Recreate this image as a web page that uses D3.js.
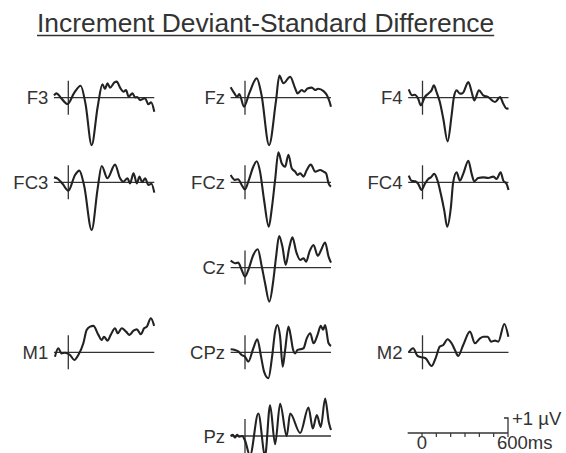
<!DOCTYPE html>
<html>
<head>
<meta charset="utf-8">
<script src="https://cdn.jsdelivr.net/npm/d3@7"></script>
<style>
  body { margin: 0; background: #fff; }
  text { font-family: "Liberation Sans", Arial, sans-serif; fill: #333; }
</style>
</head>
<body>
<div id="chart"></div>
<script>
const width = 566;
const height = 453;

const title = "Increment Deviant-Standard Difference";

// electrode names and where they sit on the grid
const channels = ["F3", "Fz", "F4", "FC3", "FCz", "FC4", "Cz", "M1", "CPz", "M2", "Pz"];
const gridCol = [0, 1, 2, 0, 1, 2, 1, 0, 1, 2, 1];
const gridRow = [0, 0, 0, 1, 1, 1, 2, 3, 3, 3, 4];

// waveforms, [time ms, amplitude uV]
const wF3 = [[-100,0.15],[-82,0.29],[-54,0.02],[-5,-0.42],[40,0.3],[86,0.8],[120,-0.4],[163,-3.16],[205,-0.6],[238,0.89],[256,0.58],[273,0.96],[291,0.67],[322,1.02],[338,1.07],[361,0.67],[385,0.4],[403,0.51],[420,0.07],[448,0.29],[466,0.02],[480,0.05],[501,-0.16],[536,-0.04],[559,-0.44],[578,-0.31],[600,-0.93]];
const wFz = [[-100,0.7],[-75,0.3],[-55,0.05],[-40,0.25],[-7,-0.6],[30,0.3],[82,1.29],[115,0.2],[168,-3.16],[215,-0.3],[240,1.47],[268,0.96],[315,1.4],[350,0.62],[366,0.29],[396,0.51],[413,0.4],[436,0.62],[466,0.67],[490,0.51],[510,0.6],[548,0.44],[571,0.18],[590,-0.27],[600,-0.6]];
const wF4 = [[-96,0.56],[-72,0.16],[-55,0.2],[-30,-0.07],[-12,-0.51],[16,0.04],[40,0.27],[63,0.49],[79,0.82],[98,0.38],[121,-0.29],[145,-1.4],[175,-2.91],[203,-1.18],[219,0.04],[238,0.49],[261,0.27],[280,0.3],[320,1.04],[343,0.38],[361,-0.18],[394,0.49],[424,0.16],[459,0.04],[506,-0.29],[541,0.04],[564,-0.4],[587,-0.73],[600,-0.7]];
const wFC3 = [[-100,0.33],[-75,0.25],[-40,-0.1],[0,-0.56],[47,0.49],[77,0.78],[110,-0.2],[163,-3.18],[205,-0.4],[233,1.09],[273,0.27],[326,1.18],[361,0.27],[385,0.04],[413,0.27],[431,-0.07],[455,0.6],[478,-0.07],[497,0.38],[515,0.0],[536,0.27],[559,-0.18],[580,-0.1],[600,-0.69]];
const wFCz = [[-100,0.49],[-70,0.16],[-48,0.2],[-23,-0.18],[0,-0.47],[23,0.04],[58,1.04],[82,1.4],[105,0.71],[133,-1.18],[166,-2.96],[186,-1.82],[210,0.16],[233,2.0],[256,1.27],[280,1.04],[303,1.84],[326,0.93],[350,0.71],[366,0.49],[385,0.6],[408,0.38],[431,0.82],[459,1.18],[490,0.71],[524,0.82],[548,0.71],[566,0.6],[583,-0.07],[600,-0.29]];
const wFC4 = [[-96,0.44],[-77,0.11],[-49,0.07],[-30,-0.11],[-7,-0.51],[16,-0.11],[40,0.22],[58,0.33],[82,0.56],[105,0.11],[128,-0.78],[152,-1.89],[172,-2.96],[198,-1.67],[214,0.0],[238,0.67],[261,0.11],[284,0.56],[320,1.44],[343,0.56],[361,0.07],[389,0.29],[424,0.33],[459,0.29],[494,0.38],[517,0.22],[545,0.67],[564,0.11],[587,-0.11],[600,-0.51]];
const wCz = [[-100,0.47],[-70,0.29],[-48,0.33],[-23,-0.16],[0,-0.6],[23,-0.16],[58,0.84],[89,1.22],[117,0.07],[140,-1.04],[170,-2.27],[198,-0.82],[217,0.73],[238,2.11],[261,1.4],[284,0.18],[308,1.29],[331,2.02],[357,1.07],[385,0.51],[408,0.62],[427,0.4],[450,1.07],[478,1.51],[508,0.78],[531,1.18],[559,1.67],[583,0.73],[600,0.33]];
const wM1 = [[-93,-0.29],[-70,0.27],[-47,-0.07],[-25,-0.03],[12,-0.18],[42,-0.51],[70,-0.18],[105,0.6],[128,1.49],[152,1.71],[175,1.76],[210,1.16],[233,0.82],[249,1.04],[273,0.78],[296,1.16],[326,1.6],[345,1.27],[373,1.6],[403,1.38],[427,1.16],[455,1.44],[478,1.53],[506,1.2],[529,1.6],[548,1.71],[576,2.27],[599,1.76]];
const wCPz = [[-100,0.2],[-70,0.15],[-45,0.05],[-23,-0.18],[0,-0.29],[23,-0.62],[58,0.27],[86,0.87],[112,-0.29],[133,-1.29],[163,-1.73],[189,-0.29],[210,1.38],[226,1.82],[245,1.04],[263,-0.96],[280,0.16],[303,1.71],[319,1.09],[333,0.27],[350,-0.07],[366,0.16],[385,0.2],[408,0.27],[431,0.93],[455,1.27],[478,0.6],[506,1.16],[529,1.76],[545,1.5],[559,1.82],[583,0.6],[600,0.42]];
const wM2 = [[-96,0.0],[-65,0.27],[-35,-0.24],[-7,-0.33],[21,-0.4],[63,-0.91],[91,-0.4],[121,0.38],[145,0.49],[175,0.87],[203,0.6],[226,0.16],[249,-0.24],[284,0.49],[331,1.38],[366,0.6],[401,0.93],[424,1.04],[455,1.04],[478,0.71],[506,0.78],[529,0.71],[571,1.89],[599,1.04]];
const wPz = [[-100,0.0],[-85,0.08],[-70,-0.1],[-55,0.08],[-40,-0.05],[-20,0.0],[0,-0.3],[35,-1.3],[93,1.5],[140,-1.3],[175,2.05],[210,-0.55],[245,2.15],[291,0.0],[315,1.5],[385,0.2],[443,1.9],[473,0.5],[501,1.4],[529,0.6],[559,2.5],[585,0.9],[600,0.4]];

const waves = { F3: wF3, Fz: wFz, F4: wF4, FC3: wFC3, FCz: wFCz, FC4: wFC4, Cz: wCz, M1: wM1, CPz: wCPz, M2: wM2, Pz: wPz };

// scale bar
const barTicks = [0, 100, 200, 300, 400, 500, 600];
const barLabels = ["0", "600ms"];
const barAmp = 1;
const barAmpLabel = "+1 µV";

// layout
const colZero = [68.3, 245, 422.5];
const rowBase = [97.7, 182.3, 267.6, 352.3, 436];
const pxPerMs = 86 / 600;
const pxPerUv = 15;

const svg = d3.select("#chart").append("svg")
  .attr("width", width).attr("height", height);

// title with underline
const tNode = svg.append("text")
  .attr("x", 37).attr("y", 32)
  .style("font-size", "26.4px")
  .style("fill", "#333")
  .text(title);
const tLen = tNode.node().getComputedTextLength();
svg.append("line")
  .attr("x1", 37).attr("x2", 37 + tLen)
  .attr("y1", 35.5).attr("y2", 35.5)
  .style("stroke", "#333").style("stroke-width", 1.4);

channels.forEach((ch, i) => {
  const zx = colZero[gridCol[i]];
  const y0 = rowBase[gridRow[i]];
  const x = d3.scaleLinear().domain([0, 600]).range([zx, zx + 600 * pxPerMs]);
  const y = d3.scaleLinear().domain([0, 1]).range([y0, y0 - pxPerUv]);

  const g = svg.append("g");

  g.append("line")
    .attr("x1", x(-100)).attr("x2", x(600))
    .attr("y1", y(0)).attr("y2", y(0))
    .style("stroke", "#333").style("stroke-width", 1.3);
  g.append("line")
    .attr("x1", x(0)).attr("x2", x(0))
    .attr("y1", y0 - 17).attr("y2", y0 + 17)
    .style("stroke", "#333").style("stroke-width", 1.3);

  const line = d3.line()
    .x(d => x(d[0]))
    .y(d => y(d[1]))
    .curve(d3.curveMonotoneX);

  g.append("path")
    .datum(waves[ch])
    .attr("d", line)
    .attr("fill", "none")
    .style("stroke", "#222")
    .style("stroke-width", 2.1)
    .style("stroke-linejoin", "round");

  g.append("text")
    .attr("x", zx - 20).attr("y", y0 + 6.5)
    .attr("text-anchor", "end")
    .style("font-size", "18.5px")
    .text(ch);
});

// scale bar
const bx = d3.scaleLinear().domain([0, 600]).range([422, 508]);
const by = d3.scaleLinear().domain([0, 1]).range([433, 433 - pxPerUv]);
const sb = svg.append("g");
sb.append("line")
  .attr("x1", bx(-100)).attr("x2", bx(600))
  .attr("y1", by(0)).attr("y2", by(0))
  .style("stroke", "#333").style("stroke-width", 1.3);
sb.selectAll("line.tick")
  .data(barTicks)
  .join("line")
  .attr("class", "tick")
  .attr("x1", d => bx(d)).attr("x2", d => bx(d))
  .attr("y1", by(0)).attr("y2", by(0) + 4)
  .style("stroke", "#333").style("stroke-width", 1.2);
sb.append("path")
  .attr("d", `M${bx(600)},${by(0)}V${by(barAmp)}H${bx(600) - 4}`)
  .attr("fill", "none")
  .style("stroke", "#333").style("stroke-width", 1.3);
sb.append("text")
  .attr("x", bx(600) + 4).attr("y", by(barAmp) + 7)
  .style("font-size", "18.5px")
  .text(barAmpLabel);
sb.append("text")
  .attr("x", bx(0)).attr("y", 449)
  .attr("text-anchor", "middle")
  .style("font-size", "18.5px")
  .text(barLabels[0]);
sb.append("text")
  .attr("x", bx(600) - 11).attr("y", 449)
  .style("font-size", "18.5px")
  .text(barLabels[1]);
</script>
</body>
</html>
